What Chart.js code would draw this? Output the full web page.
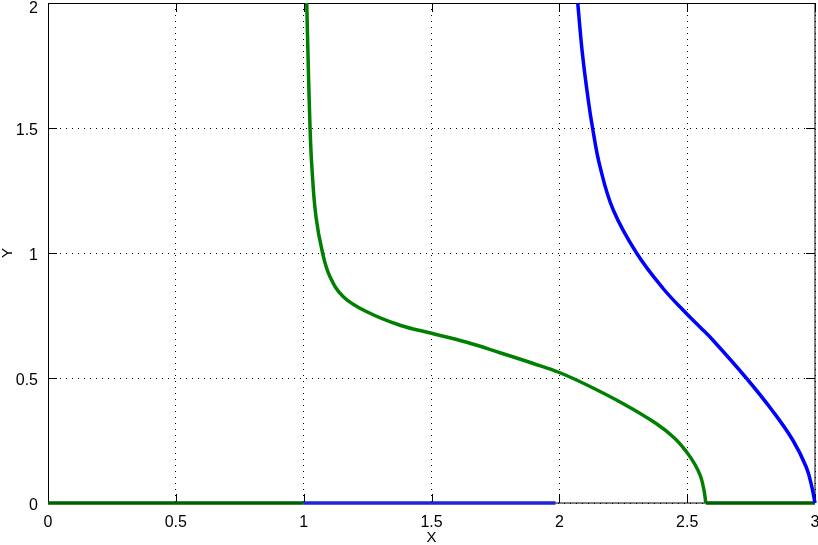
<!DOCTYPE html>
<html><head><meta charset="utf-8">
<script src="https://cdn.jsdelivr.net/npm/chart.js@4/dist/chart.umd.min.js"></script>
<style>html,body{margin:0;padding:0;background:#fff}#wrap{width:818px;height:545px}</style>
</head><body><div id="wrap"><canvas id="c" width="818" height="545"></canvas></div>
<script>
const xTicks = [0, 0.5, 1, 1.5, 2, 2.5, 3];
const yTicks = [0, 0.5, 1, 1.5, 2];
const xTitle = 'X';
const yTitle = 'Y';

const greenBaseX = [0, 1];
const greenBaseY = [0, 0];
const greenX = [1.012, 1.018, 1.025, 1.032, 1.048, 1.074, 1.103, 1.155, 1.247, 1.377, 1.5, 1.638, 1.768, 1.898, 2.0, 2.12, 2.25, 2.38, 2.45, 2.497, 2.53, 2.553, 2.566, 2.573];
const greenY = [2.0, 1.75, 1.5, 1.346, 1.146, 1.0, 0.905, 0.825, 0.765, 0.711, 0.679, 0.643, 0.601, 0.558, 0.522, 0.466, 0.397, 0.317, 0.26, 0.205, 0.155, 0.105, 0.05, 0];
const greenTailX = [2.573, 3.0];
const greenTailY = [0, 0];

const blueBaseX = [1, 1.985];
const blueBaseY = [0, 0];
const blueX = [2.072, 2.09, 2.113, 2.13, 2.159, 2.211, 2.302, 2.406, 2.497, 2.55, 2.601, 2.731, 2.835, 2.914, 2.966, 2.988, 3.0];
const blueY = [2.0, 1.8, 1.613, 1.5, 1.346, 1.172, 1.0, 0.858, 0.758, 0.704, 0.651, 0.5, 0.367, 0.25, 0.143, 0.063, 0];

const GREEN = '#008000', GREEN_DARK = '#006000';
const BLUE = '#0000ff', BLUE_DARK = '#2222d8';
const FONT = 'Liberation Sans, Arial, Helvetica, sans-serif';

const pts = (xs, ys) => xs.map((x, i) => ({x, y: ys[i]}));

const frame = {
  id: 'frame',
  beforeDraw(chart) {
    const y = chart.scales.y;
    const items = y.getLabelItems(chart.chartArea);
    items.forEach((it, i) => {
      if (y.ticks[i] && y.ticks[i].value === yTicks[yTicks.length - 1]) {
        it.options.translation[1] += 2.5;
      }
    });
  },
  beforeDatasetsDraw(chart) {
    const {ctx, chartArea: a, scales: {x, y}} = chart;
    ctx.save();
    ctx.lineWidth = 1;
    ctx.strokeStyle = '#000';
    ctx.beginPath();
    for (const v of xTicks) {
      const px = Math.round(x.getPixelForValue(v)) + 0.5;
      ctx.moveTo(px, a.bottom); ctx.lineTo(px, a.bottom - 9);
      ctx.moveTo(px, a.top); ctx.lineTo(px, a.top + 9);
    }
    for (const v of yTicks) {
      const py = Math.round(y.getPixelForValue(v)) + 0.5;
      ctx.moveTo(a.left, py); ctx.lineTo(a.left + 9, py);
      ctx.moveTo(a.right, py); ctx.lineTo(a.right - 9, py);
    }
    ctx.stroke();
    ctx.beginPath();
    ctx.moveTo(Math.round(a.left) + 0.5, a.bottom);
    ctx.lineTo(Math.round(a.left) + 0.5, Math.round(a.top) + 0.5);
    ctx.lineTo(a.right, Math.round(a.top) + 0.5);
    ctx.stroke();
    ctx.beginPath();
    ctx.moveTo(a.left, a.bottom);
    ctx.lineTo(a.right, a.bottom);
    ctx.lineTo(a.right, a.top);
    ctx.stroke();
    ctx.restore();
  }
};

new Chart(document.getElementById('c'), {
  type: 'line',
  data: {
    datasets: [
      {data: pts(blueBaseX, blueBaseY), borderColor: BLUE_DARK, tension: 0},
      {data: pts(blueX, blueY), borderColor: BLUE},
      {data: pts(greenBaseX, greenBaseY), borderColor: GREEN_DARK, tension: 0},
      {data: pts(greenTailX, greenTailY), borderColor: GREEN_DARK, tension: 0},
      {data: pts(greenX, greenY), borderColor: GREEN}
    ].map(d => Object.assign({borderWidth: 3.5, pointRadius: 0, fill: false, tension: 0.4, clip: 5,
                              borderCapStyle: 'butt', borderJoinStyle: 'round'}, d))
  },
  options: {
    responsive: false,
    animation: false,
    layout: {padding: {top: 3, right: 3, left: 0, bottom: 0}},
    plugins: {legend: {display: false}, tooltip: {enabled: false}},
    scales: {
      x: {
        type: 'linear', min: 0, max: 3,
        afterBuildTicks: s => { s.ticks = xTicks.map(v => ({value: v})); },
        afterFit: s => { s.height = 42; s.paddingLeft = 0; s.paddingRight = 0; },
        grid: {color: '#000', lineWidth: 1, drawTicks: false},
        border: {display: false, dash: [1, 5]},
        ticks: {padding: 10, maxRotation: 0, color: '#000', font: {family: FONT, size: 16},
                callback: v => String(v)},
        title: {display: true, text: xTitle, color: '#000', padding: 0, font: {family: FONT, size: 15, lineHeight: 0.95}}
      },
      y: {
        type: 'linear', min: 0, max: 2,
        afterBuildTicks: s => { s.ticks = yTicks.map(v => ({value: v})); },
        afterFit: s => { s.width = 48; s.paddingTop = 0; s.paddingBottom = 0; },
        grid: {color: '#000', lineWidth: 1, drawTicks: false},
        border: {display: false, dash: [1, 5]},
        ticks: {padding: 10, labelOffset: 3, color: '#000', font: {family: FONT, size: 16},
                callback: v => String(v)},
        title: {display: true, text: yTitle, color: '#000', padding: 0, font: {family: FONT, size: 15, lineHeight: 1}}
      }
    }
  },
  plugins: [frame]
});
</script>
</body></html>
